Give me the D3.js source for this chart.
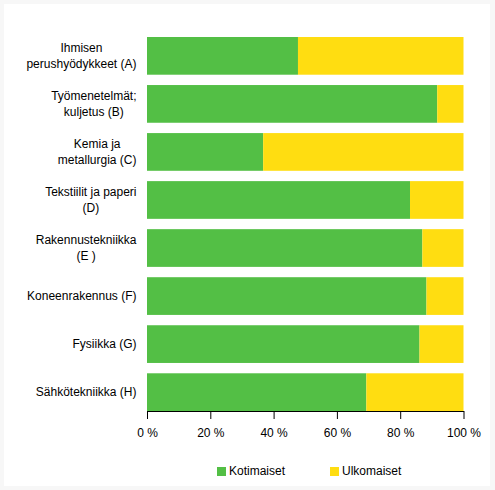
<!DOCTYPE html>
<html>
<head>
<meta charset="utf-8">
<script src="https://cdn.jsdelivr.net/npm/d3@7"></script>
<style>
  body { margin: 0; background: #f7f7f7; }
  text { font-family: "Liberation Sans", Arial, sans-serif; font-size: 12px; fill: #000; }
</style>
</head>
<body>
<svg id="chart" width="495" height="490"></svg>
<script>
// categories (each label split into lines)
const categories = [
  ['Ihmisen', 'perushyödykkeet (A)'],
  ['Työmenetelmät;', 'kuljetus (B)'],
  ['Kemia ja', 'metallurgia (C)'],
  ['Tekstiilit ja paperi', '(D)'],
  ['Rakennustekniikka', '(E )'],
  ['Koneenrakennus (F)'],
  ['Fysiikka (G)'],
  ['Sähkötekniikka (H)']
];
const kotimaiset = [47.7, 91.7, 36.7, 83.1, 87.0, 88.3, 86.1, 69.3];
const ulkomaiset = kotimaiset.map(v => 100 - v);
const seriesNames = ['Kotimaiset', 'Ulkomaiset'];
const colors = ['#53bf45', '#ffdd11'];
const xTicks = [0, 20, 40, 60, 80, 100];

const svg = d3.select('#chart');

// white panel inside a faint frame
svg.append('rect')
  .attr('x', 4).attr('y', 4)
  .attr('width', 486).attr('height', 482)
  .attr('fill', '#fff');

const rows = categories.map((c, i) => ({ i: i, label: c, Kotimaiset: kotimaiset[i], Ulkomaiset: ulkomaiset[i] }));

const x = d3.scaleLinear().domain([0, 100]).range([147, 463.5]);
const y = d3.scaleBand()
  .domain(d3.range(categories.length))
  .range([37, 411])
  .paddingInner(0.215)
  .paddingOuter(0);

const stack = d3.stack().keys(seriesNames)(rows);

svg.append('g')
  .selectAll('g')
  .data(stack)
  .join('g')
  .attr('fill', (d, i) => colors[i])
  .selectAll('rect')
  .data(d => d)
  .join('rect')
  .attr('x', d => x(d[0]))
  .attr('width', d => x(d[1]) - x(d[0]))
  .attr('y', d => y(d.data.i))
  .attr('height', y.bandwidth());

// category labels: lines centred, block right-aligned to the plot
const labelRight = 136.5;
const lab = svg.append('g');
rows.forEach(r => {
  const cy = y(r.i) + y.bandwidth() / 2;
  const n = r.label.length;
  const t = lab.append('text').attr('text-anchor', 'middle');
  const spans = r.label.map((line, k) =>
    t.append('tspan')
      .attr('y', cy + (k - (n - 1) / 2) * 16 + 4)
      .text(line));
  const maxW = d3.max(spans, s => s.node().getComputedTextLength());
  spans.forEach(s => s.attr('x', labelRight - maxW / 2));
});

// x axis
const xAxis = svg.append('g')
  .attr('transform', 'translate(0,411)')
  .call(d3.axisBottom(x).tickValues(xTicks).tickSize(8).tickSizeOuter(0)
    .tickFormat(d => d + ' %'));
xAxis.select('.domain').attr('stroke', '#000');
xAxis.selectAll('.tick line').attr('stroke', '#000');
xAxis.selectAll('.tick text')
  .attr('y', 17)
  .style('font-family', '"Liberation Sans", Arial, sans-serif')
  .style('font-size', '12px');

// legend
const legendX = [217, 330];
const legend = svg.append('g');
seriesNames.forEach((name, i) => {
  legend.append('rect')
    .attr('x', legendX[i]).attr('y', 467)
    .attr('width', 9).attr('height', 9)
    .attr('fill', colors[i]);
  legend.append('text')
    .attr('x', legendX[i] + 12).attr('y', 475)
    .text(name);
});
</script>
</body>
</html>
